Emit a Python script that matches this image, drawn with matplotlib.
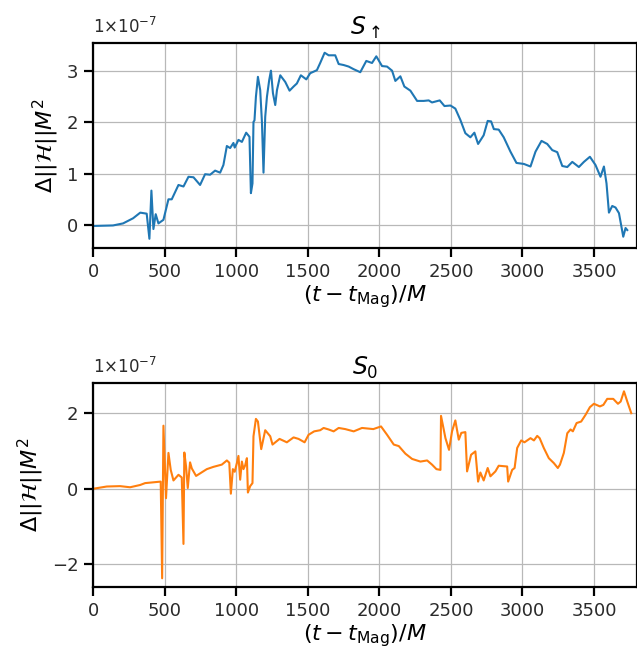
import matplotlib.pyplot as plt

# Hamiltonian constraint drift for the two spin configurations (units of 1e-7)
t_up = [0, 140, 210, 280, 330, 375, 394, 408, 422, 438, 457, 492, 527, 550, 597, 632,
        667, 702, 748, 783, 818, 853, 888, 911, 935, 958, 981, 990, 1016, 1040, 1070,
        1093, 1103, 1114, 1121, 1128, 1138, 1152, 1168, 1180, 1191, 1203, 1215, 1231,
        1243, 1257, 1273, 1285, 1308, 1343, 1373, 1401, 1424, 1452, 1490, 1517, 1564,
        1587, 1618, 1646, 1692, 1716, 1751, 1786, 1820, 1867, 1909, 1949, 1979, 2019,
        2054, 2089, 2112, 2147, 2175, 2217, 2264, 2310, 2345, 2368, 2422, 2455, 2497,
        2531, 2566, 2601, 2636, 2664, 2690, 2729, 2757, 2781, 2800, 2834, 2869, 2916,
        2958, 3010, 3056, 3091, 3133, 3173, 3208, 3243, 3278, 3313, 3348, 3394, 3429,
        3471, 3510, 3545, 3569, 3587, 3604, 3627, 3650, 3674, 3704, 3720, 3732]
h_up = [-0.02, -0.01, 0.03, 0.13, 0.24, 0.22, -0.27, 0.67, -0.08, 0.21, 0.03, 0.10,
        0.50, 0.50, 0.78, 0.75, 0.94, 0.93, 0.78, 0.99, 0.98, 1.06, 1.02, 1.17, 1.54,
        1.50, 1.60, 1.51, 1.66, 1.62, 1.80, 1.72, 0.62, 0.81, 2.01, 2.04, 2.50, 2.89,
        2.63, 2.01, 1.02, 2.11, 2.50, 2.83, 3.01, 2.57, 2.34, 2.63, 2.92, 2.79, 2.62,
        2.70, 2.76, 2.92, 2.84, 2.96, 3.02, 3.16, 3.36, 3.31, 3.31, 3.14, 3.12, 3.09,
        3.04, 2.98, 3.20, 3.16, 3.29, 3.10, 3.09, 3.01, 2.81, 2.90, 2.70, 2.62, 2.42,
        2.42, 2.43, 2.39, 2.43, 2.32, 2.33, 2.27, 2.05, 1.79, 1.71, 1.80, 1.58, 1.75,
        2.03, 2.02, 1.87, 1.86, 1.71, 1.43, 1.21, 1.19, 1.14, 1.43, 1.64, 1.58, 1.46,
        1.42, 1.15, 1.13, 1.23, 1.13, 1.23, 1.33, 1.17, 0.94, 1.14, 0.81, 0.24, 0.37,
        0.34, 0.23, -0.23, -0.06, -0.10]

t_0 = [0, 96, 189, 259, 329, 364, 473, 483, 492, 510, 527, 543, 562, 597, 620, 632,
       638, 650, 662, 678, 690, 720, 795, 841, 900, 935, 952, 963, 977, 990, 1005, 1016,
       1028, 1040, 1051, 1063, 1075, 1082, 1098, 1114, 1121, 1138, 1152, 1175, 1203,
       1238, 1254, 1303, 1354, 1401, 1436, 1478, 1506, 1545, 1587, 1611, 1646, 1681,
       1716, 1762, 1821, 1879, 1958, 2012, 2054, 2101, 2136, 2182, 2229, 2287, 2334,
       2368, 2399, 2427, 2431, 2462, 2487, 2508, 2531, 2555, 2573, 2601, 2613, 2641,
       2671, 2690, 2706, 2729, 2757, 2776, 2811, 2834, 2893, 2900, 2928, 2945, 2963,
       2991, 3014, 3056, 3080, 3103, 3120, 3149, 3184, 3219, 3247, 3262, 3289, 3313,
       3336, 3352, 3378, 3410, 3441, 3471, 3499, 3541, 3565, 3592, 3634, 3667, 3686,
       3709, 3732, 3760]
h_0 = [0.00, 0.06, 0.07, 0.04, 0.10, 0.15, 0.19, -2.37, 1.67, -0.25, 0.95, 0.50, 0.22,
       0.37, 0.30, -1.46, 0.96, 0.59, 0.02, 0.70, 0.54, 0.34, 0.52, 0.58, 0.64, 0.75,
       0.69, -0.13, 0.52, 0.45, 0.68, 0.87, 0.24, 0.72, 0.52, 0.62, 0.81, -0.10, 0.07,
       0.15, 1.39, 1.85, 1.78, 1.05, 1.55, 1.39, 1.17, 1.32, 1.23, 1.36, 1.32, 1.23,
       1.43, 1.52, 1.55, 1.61, 1.57, 1.52, 1.61, 1.58, 1.52, 1.61, 1.58, 1.65, 1.43,
       1.17, 1.13, 0.93, 0.79, 0.72, 0.75, 0.64, 0.52, 0.50, 1.93, 1.34, 1.03, 1.52,
       1.81, 1.30, 1.48, 1.50, 0.46, 0.90, 0.99, 0.19, 0.43, 0.22, 0.55, 0.33, 0.46,
       0.61, 0.59, 0.19, 0.50, 0.55, 1.08, 1.28, 1.23, 1.34, 1.28, 1.40, 1.34, 1.08,
       0.81, 0.68, 0.55, 0.64, 0.95, 1.47, 1.57, 1.52, 1.74, 1.78, 1.96, 2.16, 2.25,
       2.18, 2.22, 2.38, 2.38, 2.25, 2.31, 2.58, 2.31, 2.00]

xticks = [0, 500, 1000, 1500, 2000, 2500, 3000, 3500]

plt.rcParams['font.family'] = 'DejaVu Sans'
plt.rcParams['mathtext.fontset'] = 'dejavusans'

fig = plt.figure(figsize=(6.37, 6.58), dpi=100)
ax1 = fig.add_axes([93 / 637, 1 - 248 / 658, 1 - 93 / 637, 205 / 658])
ax2 = fig.add_axes([93 / 637, 1 - 587 / 658, 1 - 93 / 637, 204 / 658])

panels = [
    (ax1, t_up, h_up, '#1f77b4', r'$S_\uparrow$', (-0.45, 3.55), [0, 1, 2, 3]),
    (ax2, t_0, h_0, '#ff7f0e', r'$S_0$', (-2.6, 2.8), [-2, 0, 2]),
]

for ax, t, h, color, title, ylim, yticks in panels:
    ax.plot(t, h, color=color, lw=1.5)
    ax.set_xlim(0, 3800)
    ax.set_ylim(*ylim)
    ax.set_xticks(xticks)
    ax.set_yticks(yticks)
    ax.grid(True, color='#b8b8b8', lw=0.9)
    ax.set_axisbelow(True)
    for s in ax.spines.values():
        s.set_linewidth(1.6)
    ax.tick_params(labelsize=13, length=6.5, width=1.6, pad=4,
                   colors='black', labelcolor='#2a2a2a')
    ax.set_title(title, fontsize=17, pad=6)
    ax.set_xlabel(r'$(t - t_{\mathrm{Mag}})/M$', fontsize=16, labelpad=2)
    ax.set_ylabel(r'$\Delta||\mathcal{H}||M^2$', fontsize=16, labelpad=4)
    ax.text(0.0, 1.03, r'1$\times$10$^{-7}$', transform=ax.transAxes,
            fontsize=12, color='#2a2a2a', ha='left', va='bottom')

fig.savefig('out.png', dpi=100)
